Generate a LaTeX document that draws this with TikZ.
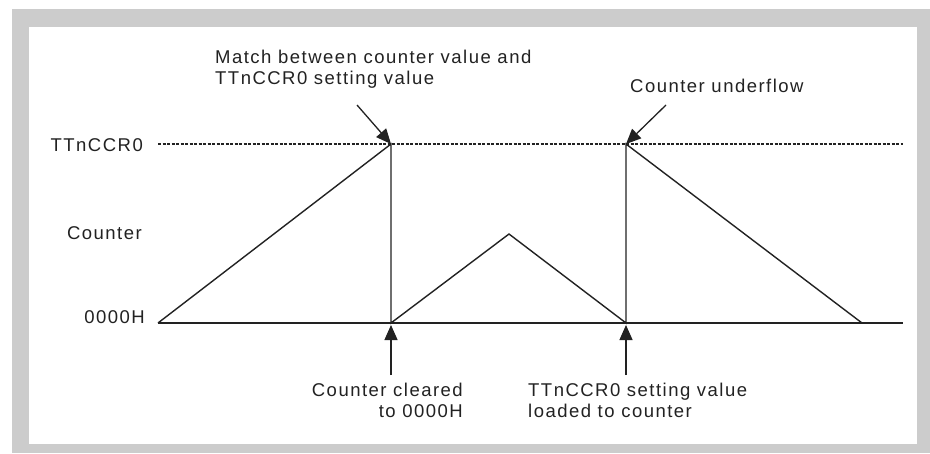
\documentclass[tikz,border=0pt]{standalone}
\usepackage{fontspec}
\setmainfont{Liberation Sans}[LetterSpace=8]
\usepackage{tikz}
\usetikzlibrary{arrows.meta}
\definecolor{FrameGray}{HTML}{CCCCCC}
\definecolor{InkDark}{HTML}{222222}

\begin{document}
\begin{tikzpicture}[
  x=1pt, y=-1pt,
  lbl/.style={inner sep=0pt, text=InkDark, font=\fontsize{18.5}{20.5}\selectfont},
  wave/.style={draw=InkDark, line width=1.4pt, line join=miter},
  level/.style={draw=InkDark, line width=1.3pt, dash pattern=on 3pt off 1.5pt},
  arrow/.style={-{Triangle[length=15pt, width=13pt]}, line width=1.3pt, draw=InkDark}
]
  \useasboundingbox (0,0) rectangle (930,453);
  \fill[FrameGray] (12,9) rectangle (930,453);
  \fill[white] (29,27) rectangle (917,444);

  % axis and compare level
  \coordinate (zero0) at (158,323);
  \coordinate (zeroend) at (903,323);
  \coordinate (ccr0) at (158,144);
  \coordinate (ccrend) at (903,144);
  \coordinate (match) at (391,144);
  \coordinate (clear) at (391,323);
  \coordinate (peak) at (509,234);
  \coordinate (load) at (626,323);
  \coordinate (under) at (626,144);
  \coordinate (down) at (862,323);

  \draw[level] (ccr0) -- (ccrend);
  \draw[wave] (zero0) -- (zeroend);
  \draw[wave] (zero0) -- (match) -- (clear) -- (peak) -- (load) -- (under) -- (down);

  \node[lbl, anchor=base east] (ccrlabel) at (143,151) {TTnCCR0};
  \node[lbl, anchor=base east] (cntlabel) at (142,239) {Counter};
  \node[lbl, anchor=base east] (zerolabel) at (145,323) {0000H};

  % multi-line notes: base = last line
  \node[lbl, anchor=base west, align=left] (matchnote) at (215,84) {Match between counter value and\\TTnCCR0 setting value};
  \node[lbl, anchor=base west] (undernote) at (630,92) {Counter underflow};
  \node[lbl, anchor=base east, align=right] (clearnote) at (463,417) {Counter cleared\\to 0000H};
  \node[lbl, anchor=base west, align=left] (loadnote) at (528,417) {TTnCCR0 setting value\\loaded to counter};

  \coordinate (matchtail) at (357,105);
  \coordinate (undertail) at (666,105);
  \coordinate (cleartail) at (391,375);
  \coordinate (loadtail) at (626,375);
  \coordinate (cleartip) at (391,325);
  \coordinate (loadtip) at (626,325);

  \draw[arrow] (matchtail) -- (match);
  \draw[arrow] (undertail) -- (under);
  \draw[arrow] (cleartail) -- (cleartip);
  \draw[arrow] (loadtail) -- (loadtip);
\end{tikzpicture}
\end{document}
